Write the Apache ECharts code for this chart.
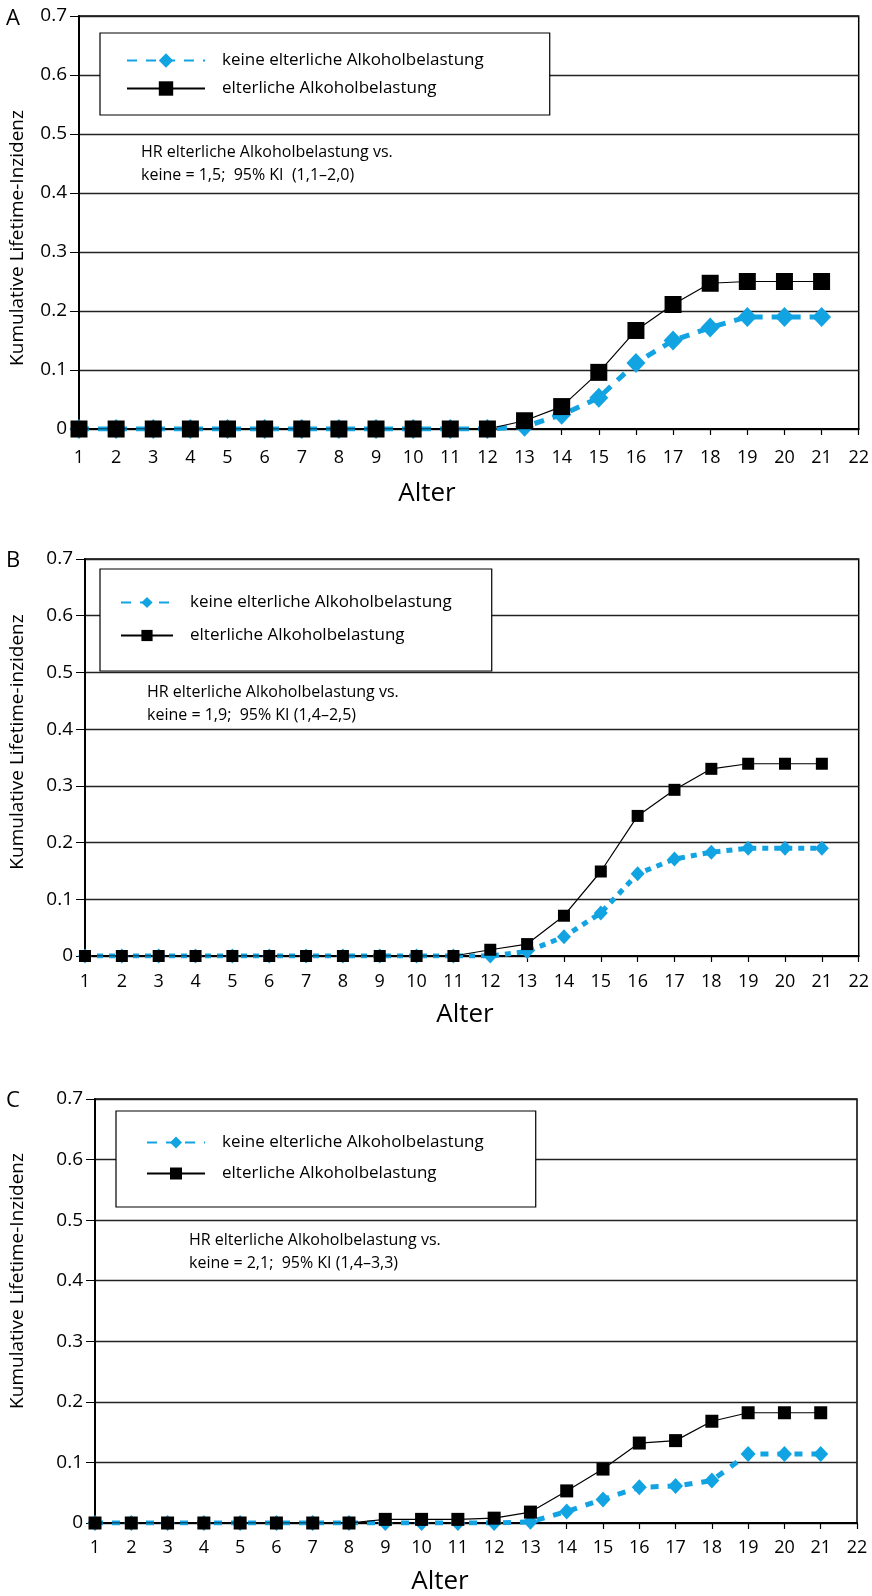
<!DOCTYPE html>
<html>
<head>
<meta charset="utf-8">
<script src="https://cdn.jsdelivr.net/npm/echarts@6/dist/echarts.min.js"></script>
<style>
html,body{margin:0;padding:0;background:#fff;}
#c{width:872px;height:1596px;}
</style>
</head>
<body>
<div id="c"></div>
<script>
// ---- data ----
var ages = [1,2,3,4,5,6,7,8,9,10,11,12,13,14,15,16,17,18,19,20,21];
var xTicks = [1,2,3,4,5,6,7,8,9,10,11,12,13,14,15,16,17,18,19,20,21,22];
var yTicks = [0,0.1,0.2,0.3,0.4,0.5,0.6,0.7];
var nameNone = 'keine elterliche Alkoholbelastung';
var nameParent = 'elterliche Alkoholbelastung';

var A_none   = [0,0,0,0,0,0,0,0,0,0,0,0,0.004,0.024,0.053,0.112,0.150,0.172,0.190,0.190,0.190];
var A_parent = [0,0,0,0,0,0,0,0,0,0,0,0,0.014,0.038,0.096,0.167,0.211,0.247,0.250,0.250,0.250];
var B_none   = [0,0,0,0,0,0,0,0,0,0,0,0,0.008,0.034,0.076,0.145,0.171,0.183,0.190,0.190,0.190];
var B_parent = [0,0,0,0,0,0,0,0,0,0,0,0.011,0.021,0.071,0.149,0.247,0.293,0.330,0.339,0.339,0.339];
var C_none   = [0,0,0,0,0,0,0,0,0,0,0,0,0.002,0.019,0.039,0.059,0.061,0.070,0.114,0.114,0.114];
var C_parent = [0,0,0,0,0,0,0,0,0.006,0.006,0.006,0.008,0.018,0.053,0.089,0.132,0.136,0.168,0.182,0.182,0.182];

var panelLetters = ['A','B','C'];
var yTitles = ['Kumulative Lifetime-Inzidenz','Kumulative Lifetime-inzidenz','Kumulative Lifetime-Inzidenz'];
var notes = [
  ['HR elterliche Alkoholbelastung vs.', 'keine = 1,5;  95% KI  (1,1\u20132,0)'],
  ['HR elterliche Alkoholbelastung vs.', 'keine = 1,9;  95% KI (1,4\u20132,5)'],
  ['HR elterliche Alkoholbelastung vs.', 'keine = 2,1;  95% KI (1,4\u20133,3)']
];

// ---- layout ----
var FONT = 'Open Sans';
var BLUE = '#12a3e2';
var panels = [
  {grid:{left:79, top:16, width:783, height:413}, none:A_none, parent:A_parent,
   rect:17, dia:19, dash:[10,9], lw:5, xm:20,
   legend:{left:100, top:33, pad:[19,66,18,26], iw:78, ih:18, gap:11, tp:12},
   note:{x:141, y:141}, ytitle:{x:18, y:238}, xtitle:{x:427, y:494}, letter:{x:6, y:8}},
  {grid:{left:85, top:559, width:776, height:397}, none:B_none, parent:B_parent,
   rect:12, dia:14, dash:[6,6], lw:5, xm:17,
   legend:{left:100, top:569, pad:[25,40,27,20], iw:52, ih:14, gap:16, tp:12},
   note:{x:147, y:681}, ytitle:{x:18, y:742}, xtitle:{x:465, y:1015}, letter:{x:6, y:550}},
  {grid:{left:95, top:1099, width:762, height:424}, none:C_none, parent:C_parent,
   rect:13, dia:15, dash:[8,9], lw:5, xm:16,
   legend:{left:116, top:1111, pad:[23,52,25,30], iw:58, ih:15, gap:14, tp:12},
   note:{x:189, y:1229}, ytitle:{x:18, y:1281}, xtitle:{x:440, y:1582}, letter:{x:6, y:1090}}
];

function pairs(xs, ys){ return xs.map(function(x,i){ return [x, ys[i]]; }); }

var grids=[], xAxes=[], yAxes=[], series=[], legends=[], graphics=[];
panels.forEach(function(p, i){
  grids.push(Object.assign({show:true, borderColor:'#000', borderWidth:1.5, backgroundColor:'#fff'}, p.grid));
  xAxes.push({
    type:'value', gridIndex:i, min:xTicks[0], max:xTicks[xTicks.length-1], interval:1,
    axisLine:{show:true, onZero:false, lineStyle:{color:'#000', width:2}},
    axisTick:{show:true, inside:false, length:6, lineStyle:{color:'#000', width:1.2}},
    axisLabel:{color:'#000', fontSize:18, fontFamily:FONT, margin:p.xm},
    splitLine:{show:false}
  });
  yAxes.push({
    type:'value', gridIndex:i, min:yTicks[0], max:yTicks[yTicks.length-1], interval:0.1,
    axisLine:{show:true, lineStyle:{color:'#000', width:2}},
    axisTick:{show:true, inside:false, length:9, lineStyle:{color:'#000', width:1}},
    axisLabel:{color:'#000', fontSize:19, fontFamily:FONT, margin:12,
      formatter:function(v){ return v===0 ? '0' : v.toFixed(1); }},
    splitLine:{show:true, lineStyle:{color:'#222', width:1.3}}
  });
  series.push({
    name:nameNone, type:'line', xAxisIndex:i, yAxisIndex:i, data:pairs(ages, p.none),
    symbol:'diamond', symbolSize:[p.dia, p.dia+1], showAllSymbol:true,
    itemStyle:{color:BLUE},
    lineStyle:{color:BLUE, width:p.lw, type:p.dash, cap:'butt'},
    emphasis:{disabled:true}, z:2
  });
  series.push({
    name:nameParent, type:'line', xAxisIndex:i, yAxisIndex:i, data:pairs(ages, p.parent),
    symbol:'rect', symbolSize:p.rect, showAllSymbol:true,
    itemStyle:{color:'#000'},
    lineStyle:{color:'#000', width:1.2},
    emphasis:{disabled:true}, z:3
  });
  var L = p.legend;
  legends.push({
    orient:'vertical', left:L.left, top:L.top, padding:L.pad,
    itemWidth:L.iw, itemHeight:L.ih, itemGap:L.gap,
    borderColor:'#000', borderWidth:1.2, backgroundColor:'#fff',
    selectedMode:false,
    data:[nameNone, nameParent],
    textStyle:{color:'#000', fontSize:17, fontFamily:FONT, padding:[0,0,0,L.tp]}
  });
  graphics.push({type:'text', left:p.letter.x, top:p.letter.y,
    style:{text:panelLetters[i], fontSize:22, fontFamily:FONT, fill:'#000'}});
  graphics.push({type:'text', x:p.ytitle.x, y:p.ytitle.y, rotation:Math.PI/2,
    style:{text:yTitles[i], fontSize:19, fontFamily:FONT, fill:'#000', align:'center', verticalAlign:'middle'}});
  graphics.push({type:'text', x:p.xtitle.x, y:p.xtitle.y,
    style:{text:'Alter', fontSize:26, fontFamily:FONT, fill:'#000', align:'center', verticalAlign:'middle'}});
  graphics.push({type:'text', x:p.note.x, y:p.note.y, z:10,
    style:{text:notes[i].join('\n'), fontSize:16, lineHeight:23, fontFamily:FONT, fill:'#000'}});
});

var chart = echarts.init(document.getElementById('c'), null, {renderer:'canvas'});
chart.setOption({
  animation:false,
  backgroundColor:'#fff',
  grid:grids, xAxis:xAxes, yAxis:yAxes, series:series, legend:legends, graphic:graphics
});
</script>
</body>
</html>
